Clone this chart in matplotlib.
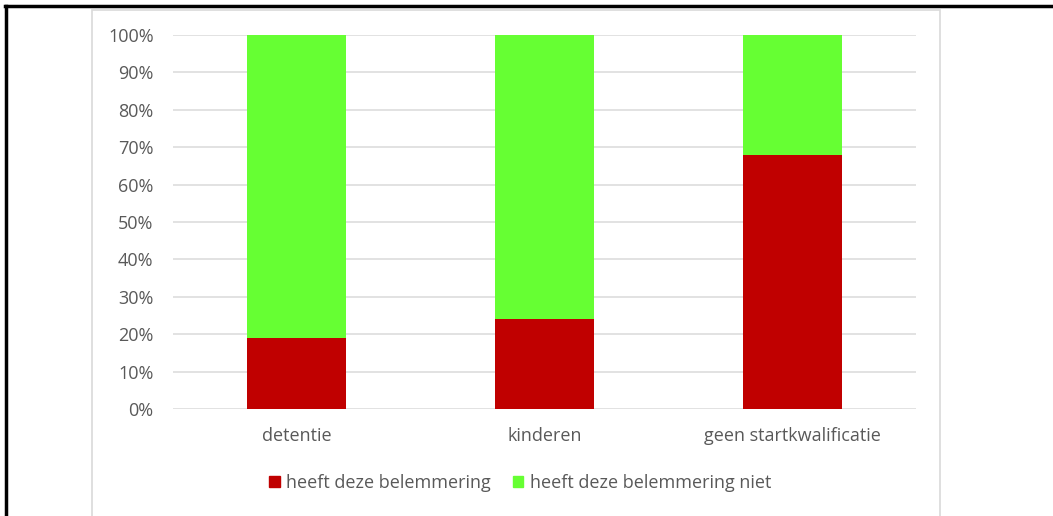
import matplotlib.pyplot as plt
from matplotlib.patches import Rectangle, Patch
from matplotlib.lines import Line2D
import numpy as np

categories = ['detentie', 'kinderen', 'geen startkwalificatie']
heeft = [19, 24, 68]
heeft_niet = [81, 76, 32]
labels = ['heeft deze belemmering', 'heeft deze belemmering niet']
kleuren = ['#C00000', '#66FF33']

plt.rcParams['font.family'] = ['Open Sans', 'DejaVu Sans']
tekst = '#595959'
fs = 13

fig = plt.figure(figsize=(10.53, 5.16), dpi=100)

# kader van de grafiek en zwarte randlijnen
fig.patches.append(Rectangle((92 / 1053, -0.1), (940 - 92) / 1053, 1.1 - 10 / 516,
                             transform=fig.transFigure, facecolor='none',
                             edgecolor='#D9D9D9', linewidth=1.2))
fig.add_artist(Line2D([5 / 1053, 1], [1 - 5.5 / 516, 1 - 5.5 / 516],
                      transform=fig.transFigure, color='black', linewidth=2.5))
fig.add_artist(Line2D([6 / 1053, 6 / 1053], [0, 1 - 5.5 / 516],
                      transform=fig.transFigure, color='black', linewidth=2.5))

ax = fig.add_axes([173 / 1053, 107 / 516, 743 / 1053, 374 / 516])
x = np.arange(len(categories))
ax.bar(x, heeft, width=0.4, color=kleuren[0], zorder=3)
ax.bar(x, heeft_niet, width=0.4, bottom=heeft, color=kleuren[1], zorder=3)

ax.set_xlim(-0.5, 2.5)
ax.set_ylim(0, 100)
ax.set_yticks(range(0, 101, 10))
ax.set_yticklabels([f'{v}%' for v in range(0, 101, 10)])
ax.set_xticks(x)
ax.set_xticklabels(categories)
ax.grid(axis='y', color='#DDDDDD', linewidth=1.2, zorder=0)
ax.tick_params(axis='both', length=0, labelsize=fs, colors=tekst)
ax.tick_params(axis='y', pad=14)
ax.tick_params(axis='x', pad=13)
for s in ax.spines.values():
    s.set_visible(False)

handles = [Patch(color=c) for c in kleuren]
leg = fig.legend(handles, labels, loc='center', ncol=2,
                 bbox_to_anchor=(520 / 1053, 1 - 483 / 516),
                 frameon=False, fontsize=fs, handlelength=0.6,
                 handleheight=0.6, handletextpad=0.35, columnspacing=1.2)
for t in leg.get_texts():
    t.set_color(tekst)

fig.savefig('out.png', dpi=100)
